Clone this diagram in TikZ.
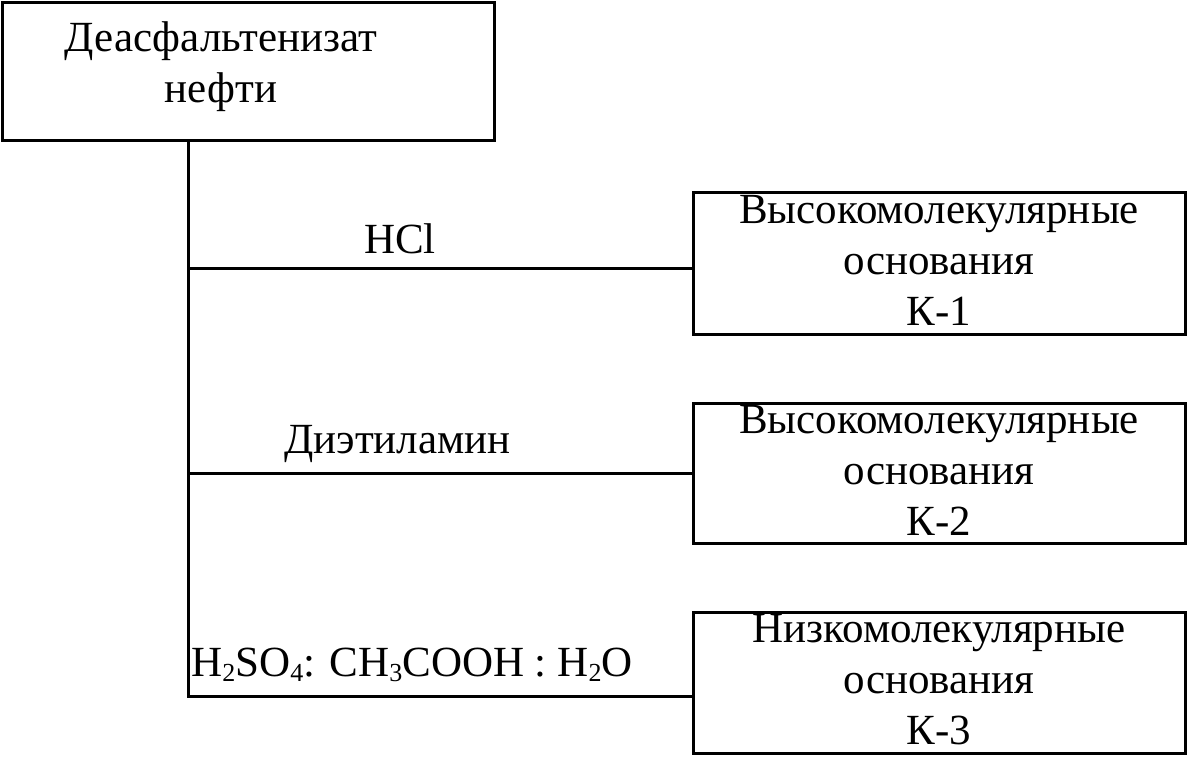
\documentclass[tikz,border=0pt]{standalone}
\usepackage{fontspec}
\setmainfont{Liberation Serif}
\newcommand{\mysub}[1]{\raisebox{-2.5pt}{\fontsize{13}{13}\selectfont #1}}
\begin{document}
\begin{tikzpicture}[x=0.5pt,y=-0.5pt,
  every node/.style={font=\fontsize{21.5}{25.5}\selectfont, inner sep=0pt},
  box/.style={draw, line width=1.5pt, rectangle, minimum width=246pt},
  txt/.style={align=center},
  lbl/.style={anchor=base},
  conn/.style={draw, line width=1.5pt}]
\useasboundingbox (0,0) rectangle (1187,756);
% boxes
\node[box, minimum height=69pt] (src) at (248,71) {};
\node[txt] (srct) at (221,67) {Деасфальтенизат\\нефти};
\node[box, minimum height=71pt] (k1) at (939,263) {};
\node[txt] (k1t) at (939,260) {Высокомолекулярные\\основания\\К-1};
\node[box, minimum height=70pt] (k2) at (939,473) {};
\node[txt] (k2t) at (939,470) {Высокомолекулярные\\основания\\К-2};
\node[box, minimum height=70.5pt] (k3) at (939,682.5) {};
\node[txt] (k3t) at (939,680) {Низкомолекулярные\\основания\\К-3};
% junctions on trunk
\coordinate (j1) at (188,268);
\coordinate (j2) at (188,473);
\coordinate (j3) at (188,696);
% connectors
\draw[conn] (src.south -| j3) -- (j3) -- (j3 -| k3.west);
\draw[conn] (j1) -- (j1 -| k1.west);
\draw[conn] (j2) -- (j2 -| k2.west);
% labels
\node[lbl] (l1) at (400,253) {HCl};
\node[lbl] (l2) at (397.5,453) {Диэтиламин};
\node[lbl] (l3) at (412,676) {H\mysub{2}SO\mysub{4}: CH\mysub{3}COOH : H\mysub{2}O};
\end{tikzpicture}
\end{document}
